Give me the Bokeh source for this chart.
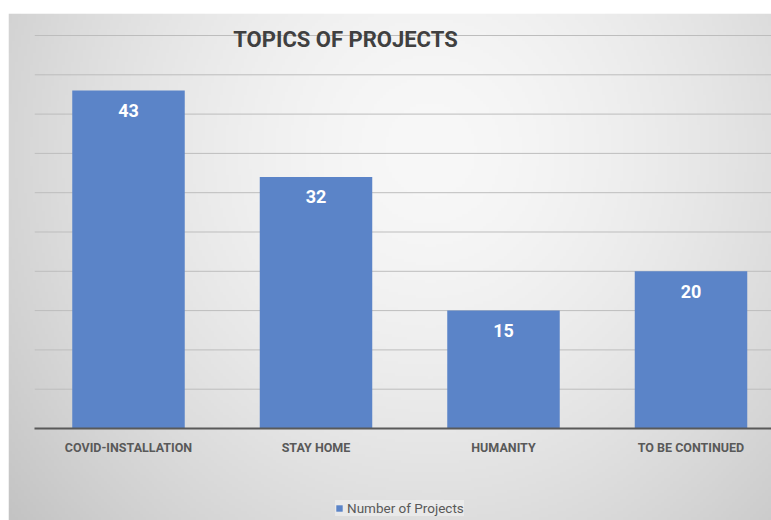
import numpy as np
from bokeh.plotting import figure
from bokeh.models import (Range1d, LinearAxis, FixedTicker, Label, Legend,
                          LegendItem, ColumnDataSource)
from bokeh.core.properties import value
from bokeh.embed import file_html
from bokeh.resources import INLINE

# ---- data ----
categories = ["COVID-INSTALLATION", "STAY HOME", "HUMANITY", "TO BE CONTINUED"]
projects = [43, 32, 15, 20]
grid_values = [5, 10, 15, 20, 25, 30, 35, 40, 45, 50]
title_text = "TOPICS OF PROJECTS"
series_name = "Number of Projects"

# ---- layout constants (pixels) ----
W, H = 771, 520
LEFT, TOP = 8, 13
band_px = 187.5
axis_start_px = 34.25
zero_px = 428
unit_px = 7.86

x_start = -0.5 - (axis_start_px - LEFT) / band_px
x_end = -0.5 + (W - axis_start_px) / band_px
y_end = (zero_px - TOP) / unit_px
y_start = -(H - zero_px) / unit_px

p = figure(width=W, height=H, output_backend="svg", toolbar_location=None,
           x_range=Range1d(x_start, x_end), y_range=Range1d(y_start, y_end),
           x_axis_location=None, y_axis_location=None,
           min_border_left=LEFT, min_border_top=TOP, min_border_right=0,
           min_border_bottom=0)
p.border_fill_color = "white"
p.outline_line_color = None
p.xgrid.visible = False
p.ygrid.visible = False

# ---- radial gradient background ----
nx, ny = 257, 169
pxs = LEFT + (np.arange(nx) + 0.5) * (W - LEFT) / nx
pys = H - (np.arange(ny) + 0.5) * (H - TOP) / ny
X, Y = np.meshgrid(pxs, pys)
r = np.sqrt(((X - 430) / 400) ** 2 + ((Y - 150) / 420) ** 2)
g = np.clip(248 - 32 * r ** 1.6, 0, 255).astype(np.uint8)
img = np.empty((ny, nx), dtype=np.uint32)
view = img.view(dtype=np.uint8).reshape((ny, nx, 4))
view[..., 0] = g
view[..., 1] = g
view[..., 2] = g
view[..., 3] = 255
p.image_rgba(image=[img], x=x_start, y=y_start, dw=x_end - x_start, dh=y_end - y_start)

# ---- gridlines ----
n = len(grid_values)
p.segment(x0=[-0.5] * n, x1=[x_end] * n, y0=grid_values, y1=grid_values,
          line_color="#bdbdbd", line_width=1)

# ---- bars ----
idx = list(range(len(categories)))
src = ColumnDataSource(dict(x=idx, top=projects, label=[str(v) for v in projects]))
bars = p.vbar(x="x", top="top", width=0.6, source=src,
              fill_color="#5B84C8", line_color=None)
p.text(x="x", y="top", text="label", source=src, text_color="white",
       text_font=value("Roboto"), text_font_style="bold", text_font_size="18px",
       text_align="center", text_baseline="middle", y_offset=20)

# ---- x axis at y=0 ----
xaxis = LinearAxis(fixed_location=0, bounds=(-0.5, x_end),
                   ticker=FixedTicker(ticks=idx),
                   major_label_overrides={i: c for i, c in zip(idx, categories)})
xaxis.axis_line_color = "#595959"
xaxis.axis_line_width = 2
xaxis.major_tick_line_color = None
xaxis.minor_tick_line_color = None
xaxis.major_label_text_font = "Roboto"
xaxis.major_label_text_font_style = "bold"
xaxis.major_label_text_font_size = "12.5px"
xaxis.major_label_text_color = "#595959"
xaxis.major_label_standoff = 5
p.add_layout(xaxis, "below")

# ---- title ----
title = Label(x=345 - LEFT, y=H - 38.5, x_units="screen", y_units="screen",
              text=title_text, text_font="Roboto", text_font_style="bold",
              text_font_size="22px", text_color="#404040",
              text_align="center", text_baseline="middle")
p.add_layout(title)

# ---- legend ----
legend = Legend(items=[LegendItem(label=series_name, renderers=[bars])],
                location=(327, 4), orientation="horizontal",
                glyph_width=8, glyph_height=8, label_height=14,
                label_standoff=4, padding=15, margin=0, spacing=0,
                label_text_font="Roboto", label_text_font_size="13.5px",
                label_text_color="#595959",
                background_fill_color="white", background_fill_alpha=0.35,
                border_line_color=None)
p.add_layout(legend)

open("out.html", "w").write(file_html(p, INLINE))
